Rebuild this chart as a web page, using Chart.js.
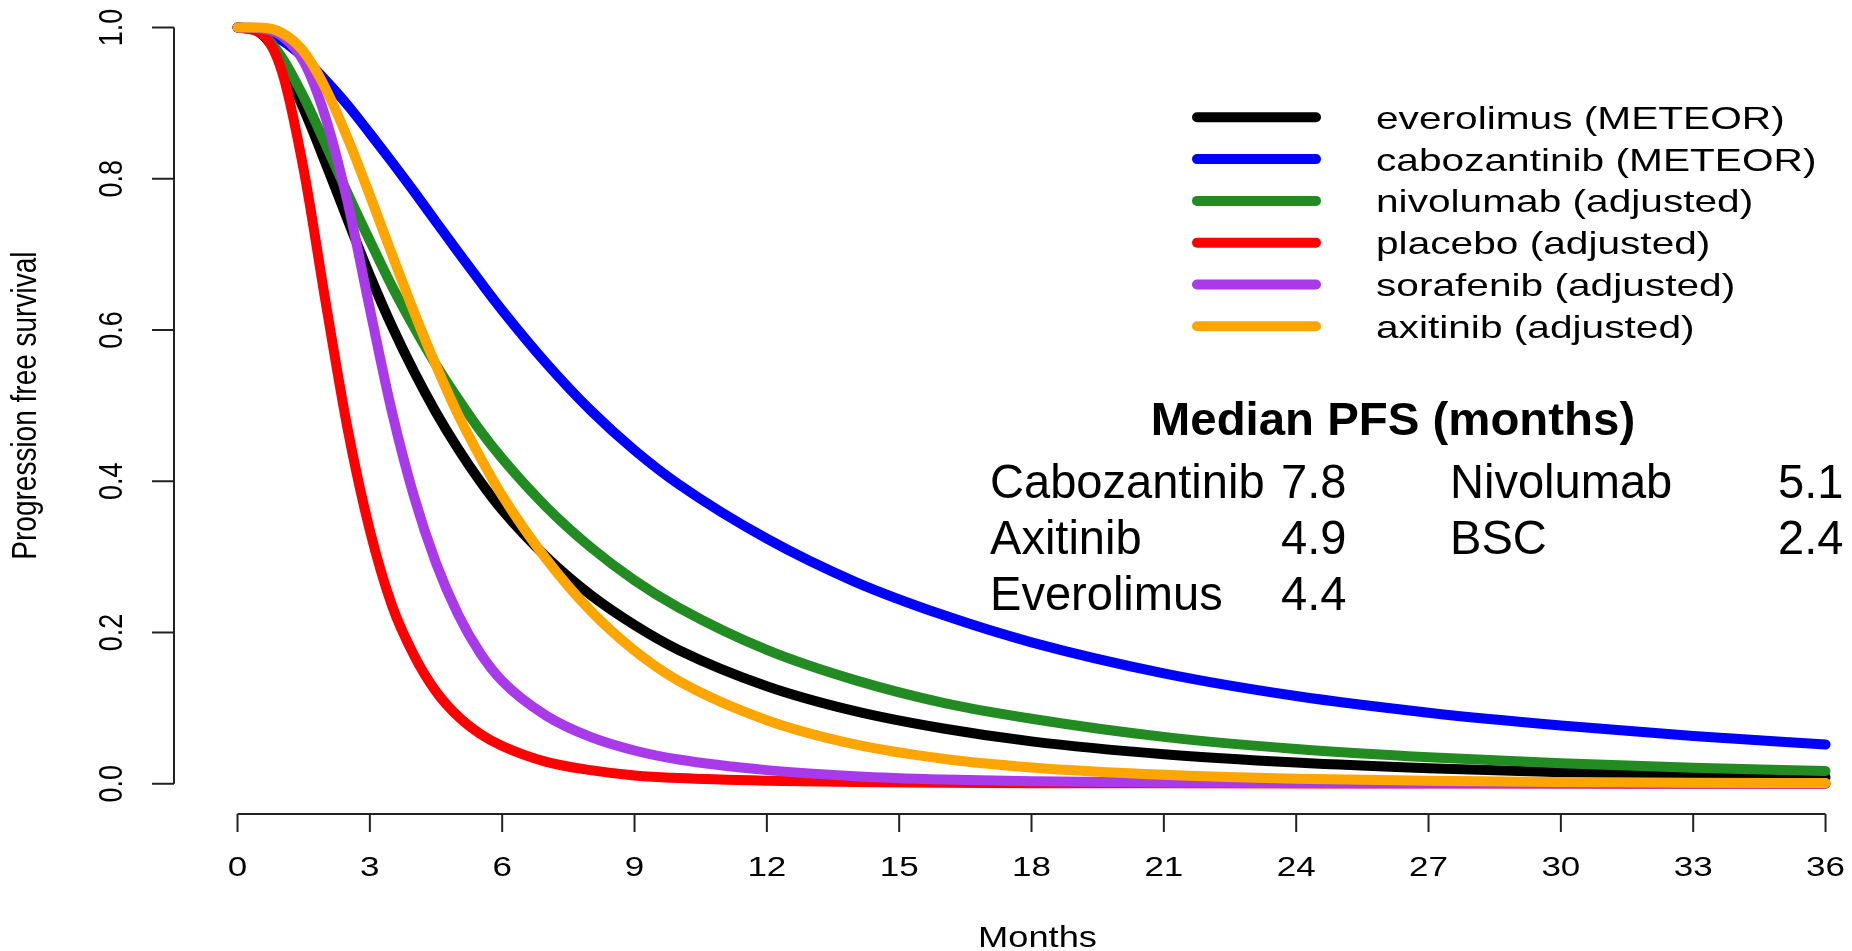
<!DOCTYPE html>
<html>
<head>
<meta charset="utf-8">
<title>Progression free survival</title>
<script src="https://cdn.jsdelivr.net/npm/chart.js@4.4.1/dist/chart.umd.min.js"></script>
<style>
  html, body { margin: 0; padding: 0; background: #fff; }
  #wrap { width: 1852px; height: 951px; }
</style>
</head>
<body>
<div id="wrap"><canvas id="pfsChart" width="1852" height="951"></canvas></div>
<script>
// time points (months)
const months = [0, 0.5, 1, 1.5, 2, 2.5, 3, 3.5, 4, 4.5, 5, 5.5, 6, 7, 8, 9, 10, 12, 14, 16, 18, 21, 24, 27, 30, 33, 36];

// progression free survival per arm
const everolimus = [1, 0.993, 0.955, 0.892, 0.820, 0.745, 0.672, 0.605, 0.545, 0.491, 0.443, 0.400, 0.362, 0.300, 0.250, 0.210, 0.177, 0.129, 0.096, 0.073, 0.056, 0.039, 0.028, 0.0205, 0.0153, 0.0116, 0.009];
const cabozantinib = [1, 0.997, 0.983, 0.960, 0.930, 0.897, 0.860, 0.822, 0.783, 0.743, 0.703, 0.664, 0.626, 0.556, 0.494, 0.441, 0.396, 0.324, 0.267, 0.223, 0.187, 0.146, 0.116, 0.094, 0.077, 0.063, 0.052];
const nivolumab = [1, 0.994, 0.961, 0.908, 0.845, 0.780, 0.718, 0.658, 0.604, 0.554, 0.509, 0.467, 0.430, 0.366, 0.313, 0.269, 0.233, 0.177, 0.137, 0.107, 0.086, 0.062, 0.046, 0.035, 0.027, 0.021, 0.017];
const placebo = [1, 0.994, 0.943, 0.812, 0.636, 0.468, 0.335, 0.236, 0.170, 0.122, 0.089, 0.066, 0.050, 0.029, 0.018, 0.011, 0.0075, 0.004, 0.0022, 0.0013, 0.0008, 0.0005, 0.0003, 0.0002, 0.0002, 0.0001, 0.0001];
const sorafenib = [1, 0.999, 0.989, 0.955, 0.880, 0.768, 0.628, 0.492, 0.380, 0.292, 0.224, 0.173, 0.136, 0.090, 0.062, 0.044, 0.032, 0.018, 0.010, 0.0055, 0.0032, 0.0016, 0.001, 0.0006, 0.0004, 0.0003, 0.0002];
const axitinib = [1, 0.9998, 0.993, 0.968, 0.919, 0.853, 0.778, 0.700, 0.624, 0.553, 0.488, 0.432, 0.381, 0.297, 0.229, 0.176, 0.136, 0.084, 0.052, 0.033, 0.0215, 0.0118, 0.0066, 0.0038, 0.0023, 0.0014, 0.0009];

const seriesNames = ["everolimus (METEOR)", "cabozantinib (METEOR)", "nivolumab (adjusted)", "placebo (adjusted)", "sorafenib (adjusted)", "axitinib (adjusted)"];
const seriesColors = ["#000000", "#0000ff", "#228b22", "#ff0000", "#a83ae9", "#ffa500"];
const seriesValues = [everolimus, cabozantinib, nivolumab, placebo, sorafenib, axitinib];

const xTicks = [0, 3, 6, 9, 12, 15, 18, 21, 24, 27, 30, 33, 36];
const yTicks = [0, 0.2, 0.4, 0.6, 0.8, 1.0];

const medianTitle = "Median PFS (months)";
const medianRows = [
  ["Cabozantinib", "7.8", "Nivolumab", "5.1"],
  ["Axitinib", "4.9", "BSC", "2.4"],
  ["Everolimus", "4.4", "", ""]
];

const FONT = "'Liberation Sans', Arial, sans-serif";
const SX = 1.25; // horizontal stretch of the plot lettering

function stretchText(ctx, str, x, y, o) {
  ctx.save();
  ctx.translate(x, y);
  ctx.scale(o.sx || 1, 1);
  if (o.rotate) ctx.rotate(o.rotate);
  ctx.font = o.font;
  ctx.textAlign = o.align || "left";
  ctx.textBaseline = "alphabetic";
  ctx.fillStyle = o.color || "#000";
  ctx.fillText(str, 0, 0);
  ctx.restore();
}

// base-graphics style axes, legend and median table
const rDecor = {
  id: "rDecor",
  afterDraw(chart) {
    const ctx = chart.ctx;
    const xs = chart.scales.x, ys = chart.scales.y;
    const area = chart.chartArea;
    const xt = xs.ticks.length ? xs.ticks.map(t => t.value) : xTicks;
    const yt = ys.ticks.length ? ys.ticks.map(t => t.value) : yTicks;

    ctx.save();
    ctx.strokeStyle = "#222";
    ctx.lineWidth = 2;
    ctx.lineCap = "butt";

    // x axis
    const xb = area.bottom;
    ctx.beginPath();
    ctx.moveTo(xs.getPixelForValue(xt[0]), xb);
    ctx.lineTo(xs.getPixelForValue(xt[xt.length - 1]), xb);
    xt.forEach(v => {
      const px = xs.getPixelForValue(v);
      ctx.moveTo(px, xb);
      ctx.lineTo(px, xb + 18);
    });
    ctx.stroke();
    xt.forEach(v => {
      stretchText(ctx, String(v), xs.getPixelForValue(v), 876, {font: "28px " + FONT, align: "center", sx: SX});
    });

    // y axis
    const yl = area.left;
    ctx.beginPath();
    ctx.moveTo(yl, ys.getPixelForValue(yt[0]));
    ctx.lineTo(yl, ys.getPixelForValue(yt[yt.length - 1]));
    yt.forEach(v => {
      const py = ys.getPixelForValue(v);
      ctx.moveTo(yl, py);
      ctx.lineTo(yl - 22, py);
    });
    ctx.stroke();
    yt.forEach(v => {
      stretchText(ctx, v.toFixed(1), 122, ys.getPixelForValue(v), {font: "27px " + FONT, align: "center", sx: SX, rotate: -Math.PI / 2});
    });

    // axis titles
    stretchText(ctx, "Months", xs.getPixelForValue(18) + 6, 947, {font: "29px " + FONT, align: "center", sx: SX});
    stretchText(ctx, "Progression free survival", 36, ys.getPixelForValue(0.5), {font: "28px " + FONT, align: "center", sx: SX, rotate: -Math.PI / 2});

    // legend
    chart.data.datasets.forEach((ds, i) => {
      const ly = 117.3 + i * 41.8;
      ctx.beginPath();
      ctx.strokeStyle = ds.borderColor;
      ctx.lineWidth = 10;
      ctx.lineCap = "round";
      ctx.moveTo(1197, ly);
      ctx.lineTo(1316, ly);
      ctx.stroke();
      stretchText(ctx, ds.label, 1376, ly + 11.5, {font: "32px " + FONT, sx: 1.27});
    });

    // median PFS table
    stretchText(ctx, medianTitle, 1393, 435, {font: "bold 46px " + FONT, align: "center", sx: 1.03});
    const cols = [990, 1281, 1450, 1778];
    medianRows.forEach((row, r) => {
      row.forEach((cell, c) => {
        if (cell) stretchText(ctx, cell, cols[c], 498 + r * 56, {font: "48px " + FONT, sx: 0.98});
      });
    });
    ctx.restore();
  }
};

const ctx = document.getElementById("pfsChart").getContext("2d");

new Chart(ctx, {
  type: "line",
  data: {
    datasets: seriesValues.map((vals, i) => ({
      label: seriesNames[i],
      data: months.map((m, j) => ({x: m, y: vals[j]})),
      borderColor: seriesColors[i],
      borderWidth: 10,
      borderCapStyle: "round",
      borderJoinStyle: "round",
      pointRadius: 0,
      cubicInterpolationMode: "monotone",
      fill: false,
      clip: false,
      order: seriesValues.length - i
    }))
  },
  options: {
    responsive: false,
    animation: false,
    devicePixelRatio: 1,
    layout: {padding: {left: 174, right: 0, top: 0, bottom: 137}},
    scales: {
      x: {
        type: "linear", min: -1.44, max: 36.6, display: false,
        afterBuildTicks: s => { s.ticks = xTicks.map(v => ({value: v})); }
      },
      y: {
        type: "linear", min: -0.04, max: 1.0363, display: false,
        afterBuildTicks: s => { s.ticks = yTicks.map(v => ({value: v})); }
      }
    },
    plugins: {
      legend: {display: false},
      tooltip: {enabled: false}
    }
  },
  plugins: [rDecor]
});
</script>
</body>
</html>
